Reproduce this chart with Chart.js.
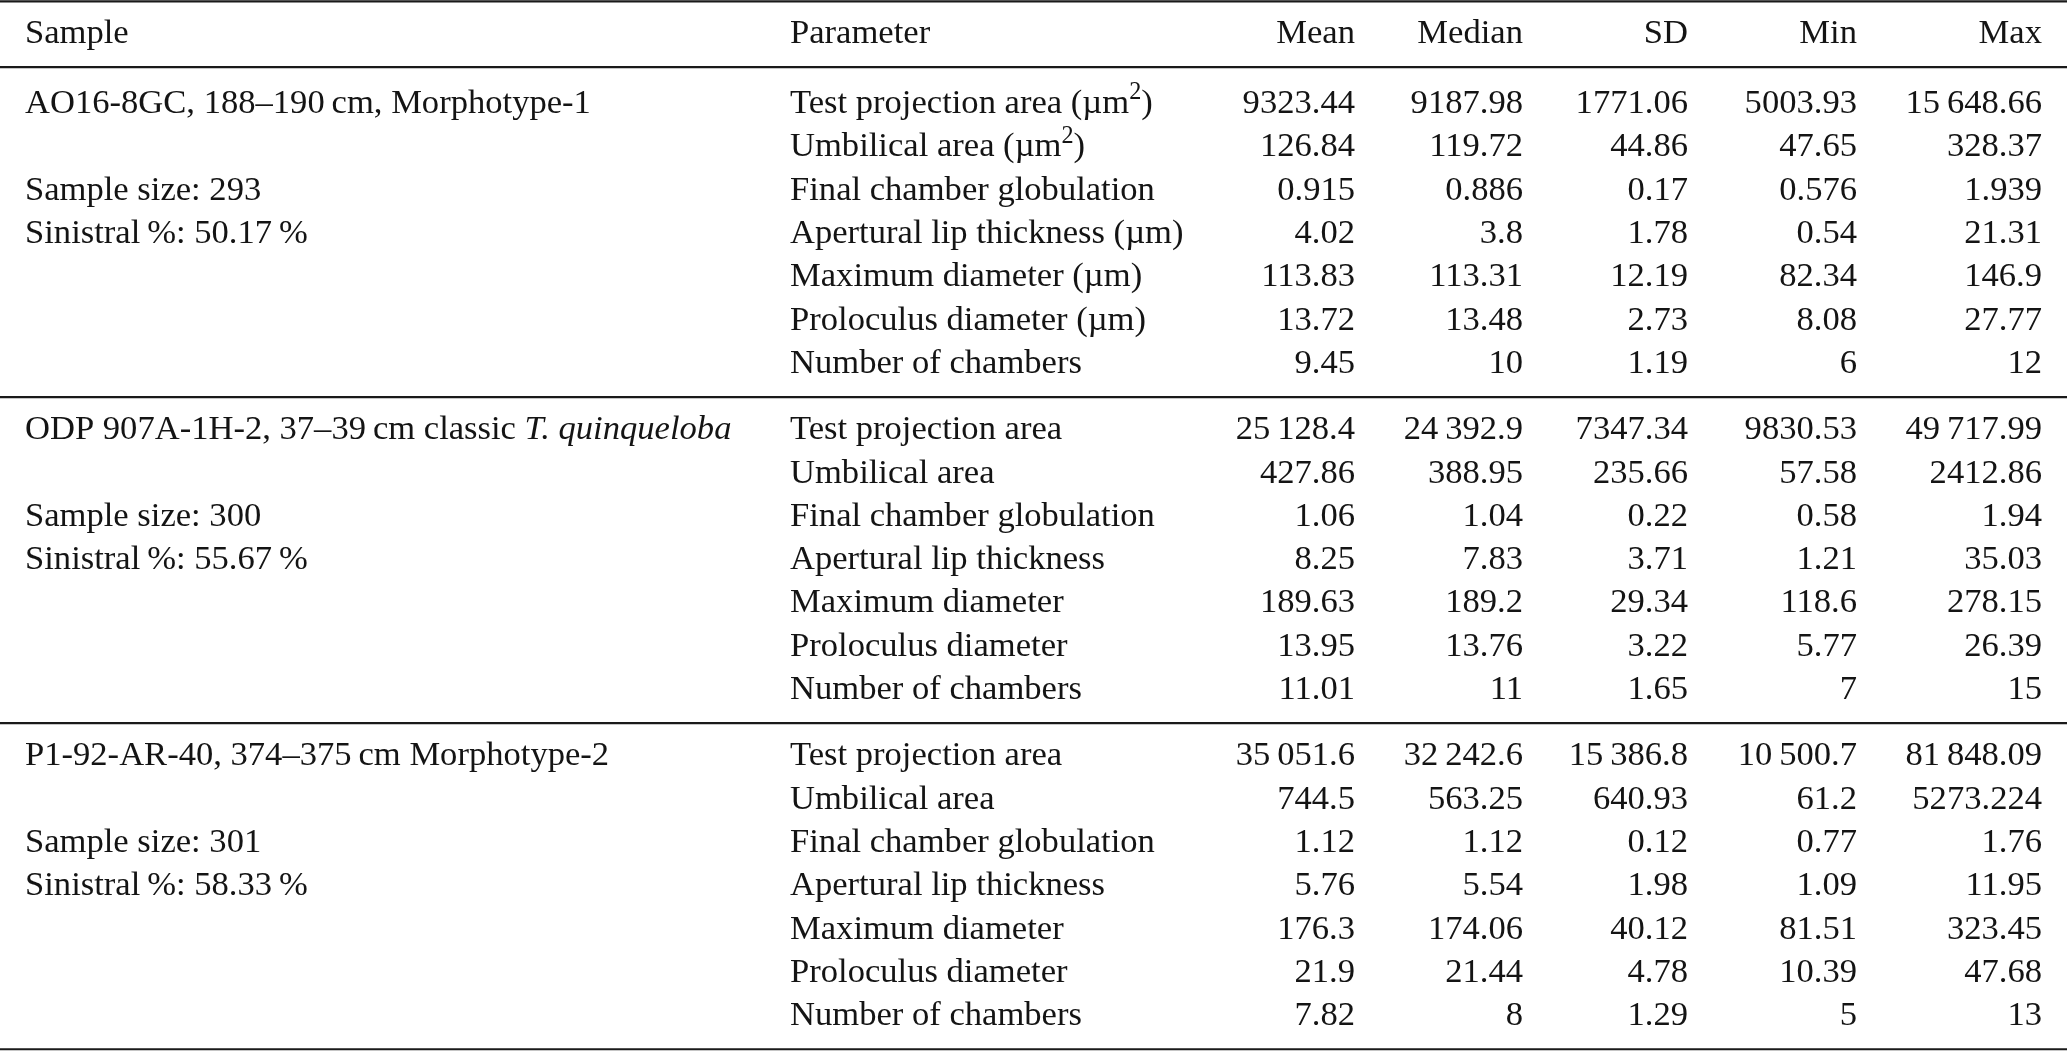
<!DOCTYPE html>
<html>
<head>
<meta charset="utf-8">
<script src="https://cdn.jsdelivr.net/npm/chart.js@4"></script>
<style>
  html, body { margin: 0; padding: 0; background: #fff; }
  #box { width: 2067px; height: 1051px; }
</style>
</head>
<body>
<div id="box"><canvas id="myChart"></canvas></div>
<script>
const columnHeads = ["Sample", "Parameter", "Mean", "Median", "SD", "Min", "Max"];

const sampleNames = [
  "AO16-8GC, 188\u2013190\u2009cm, Morphotype-1",
  "ODP 907A-1H-2, 37\u201339\u2009cm classic *T. quinqueloba*",
  "P1-92-AR-40, 374\u2013375\u2009cm Morphotype-2",
];
const sampleSizes = [293, 300, 301];
const sinistralPct = ["50.17", "55.67", "58.33"];

const parametersWithUnits = [
  "Test projection area (\u00b5m^2)",
  "Umbilical area (\u00b5m^2)",
  "Final chamber globulation",
  "Apertural lip thickness (\u00b5m)",
  "Maximum diameter (\u00b5m)",
  "Proloculus diameter (\u00b5m)",
  "Number of chambers",
];
const parametersPlain = [
  "Test projection area",
  "Umbilical area",
  "Final chamber globulation",
  "Apertural lip thickness",
  "Maximum diameter",
  "Proloculus diameter",
  "Number of chambers",
];
const parameterLabels = [parametersWithUnits, parametersPlain, parametersPlain];

let meanVals = [
  9323.44, 126.84, 0.915, 4.02, 113.83, 13.72, 9.45,
  25128.4, 427.86, 1.06, 8.25, 189.63, 13.95, 11.01,
  35051.6, 744.5, 1.12, 5.76, 176.3, 21.9, 7.82,
];
let medianVals = [
  9187.98, 119.72, 0.886, 3.8, 113.31, 13.48, 10,
  24392.9, 388.95, 1.04, 7.83, 189.2, 13.76, 11,
  32242.6, 563.25, 1.12, 5.54, 174.06, 21.44, 8,
];
let sdVals = [
  1771.06, 44.86, 0.17, 1.78, 12.19, 2.73, 1.19,
  7347.34, 235.66, 0.22, 3.71, 29.34, 3.22, 1.65,
  15386.8, 640.93, 0.12, 1.98, 40.12, 4.78, 1.29,
];
let minVals = [
  5003.93, 47.65, 0.576, 0.54, 82.34, 8.08, 6,
  9830.53, 57.58, 0.58, 1.21, 118.6, 5.77, 7,
  10500.7, 61.2, 0.77, 1.09, 81.51, 10.39, 5,
];
let maxVals = [
  15648.66, 328.37, 1.939, 21.31, 146.9, 27.77, 12,
  49717.99, 2412.86, 1.94, 35.03, 278.15, 26.39, 15,
  81848.09, 5273.224, 1.76, 11.95, 323.45, 47.68, 13,
];
const statSeries = [meanVals, medianVals, sdVals, minVals, maxVals];

// layout (x in page units, y in row units)
const colX = [25, 790, 1355, 1523, 1688, 1857, 2042];
const colAlign = ["left", "left", "right", "right", "right", "right", "right"];
const firstRow = 1.62;
const sectionPitch = 7.53;
const ruleRows = [-0.7, 0.82, 8.44, 15.97, 23.5];
const fontSize = 34.6;
const fontFamily = "'Liberation Serif', 'Times New Roman', serif";
const inkColor = "#141414";

function formatNumber(v) {
  let s = String(v);
  let parts = s.split(".");
  if (parts[0].length >= 5) {
    parts[0] = parts[0].replace(/\B(?=(\d{3})+(?!\d))/g, "\u2009");
  }
  return parts.join(".");
}

// split "text *italic* x^2" into runs
function toRuns(text) {
  let runs = [];
  let bits = text.split(/(\*[^*]+\*|\^\d)/);
  bits.forEach(function (b) {
    if (!b) return;
    if (b[0] === "*") runs.push({ t: b.slice(1, -1), italic: true });
    else if (b[0] === "^") runs.push({ t: b.slice(1), sup: true });
    else runs.push({ t: b });
  });
  return runs;
}

function runFont(r) {
  let size = r.sup ? fontSize * 0.7 : fontSize;
  return (r.italic ? "italic " : "") + size + "px " + fontFamily;
}

function drawText(ctx, text, x, y, align) {
  let runs = toRuns(text);
  let total = 0;
  runs.forEach(function (r) {
    ctx.font = runFont(r);
    r.w = ctx.measureText(r.t).width;
    total += r.w;
  });
  let cx = align === "right" ? x - total : x;
  let base = y + fontSize * 0.33;
  runs.forEach(function (r) {
    ctx.font = runFont(r);
    ctx.fillText(r.t, cx, r.sup ? base - fontSize * 0.4 : base);
    cx += r.w;
  });
}

function rowValue(section, row) {
  return firstRow + section * sectionPitch + row;
}

const tablePlugin = {
  id: "tablePlugin",
  beforeDraw(chart) {
    let ctx = chart.ctx;
    ctx.save();
    ctx.fillStyle = "#ffffff";
    ctx.fillRect(0, 0, chart.width, chart.height);
    ctx.restore();
  },
  afterDraw(chart) {
    let ctx = chart.ctx;
    let xs = chart.scales.x;
    let ys = chart.scales.y;
    ctx.save();
    ctx.fillStyle = inkColor;
    ctx.textAlign = "left";
    ctx.textBaseline = "alphabetic";

    // rules
    ctx.strokeStyle = "#1a1a1a";
    ctx.lineWidth = 2.2;
    ruleRows.forEach(function (r) {
      let py = ys.getPixelForValue(r);
      ctx.beginPath();
      ctx.moveTo(xs.left, py);
      ctx.lineTo(xs.right, py);
      ctx.stroke();
    });

    // header
    columnHeads.forEach(function (h, i) {
      drawText(ctx, h, xs.getPixelForValue(colX[i]), ys.getPixelForValue(0), colAlign[i]);
    });

    // body
    for (let s = 0; s < sampleNames.length; s++) {
      let sx = xs.getPixelForValue(colX[0]);
      drawText(ctx, sampleNames[s], sx, ys.getPixelForValue(rowValue(s, 0)), "left");
      drawText(ctx, "Sample size: " + sampleSizes[s], sx, ys.getPixelForValue(rowValue(s, 2)), "left");
      drawText(ctx, "Sinistral\u2009%: " + sinistralPct[s] + "\u2009%", sx, ys.getPixelForValue(rowValue(s, 3)), "left");

      for (let r = 0; r < 7; r++) {
        let py = ys.getPixelForValue(rowValue(s, r));
        drawText(ctx, parameterLabels[s][r], xs.getPixelForValue(colX[1]), py, "left");
        statSeries.forEach(function (series, c) {
          drawText(ctx, formatNumber(series[s * 7 + r]), xs.getPixelForValue(colX[c + 2]), py, "right");
        });
      }
    }
    ctx.restore();
  },
};

function chartJs() {
  const ctx = document.getElementById("myChart");
  new Chart(ctx, {
    type: "scatter",
    data: { datasets: [{ data: [] }] },
    options: {
      responsive: true,
      maintainAspectRatio: false,
      animation: false,
      layout: { padding: 0 },
      scales: {
        x: { type: "linear", min: 0, max: 2067, display: false },
        y: { type: "linear", min: -0.73, max: 23.54, reverse: true, display: false },
      },
      plugins: {
        legend: { display: false },
        tooltip: { enabled: false },
      },
      events: [],
    },
    plugins: [tablePlugin],
  });
}

chartJs();
</script>
</body>
</html>
